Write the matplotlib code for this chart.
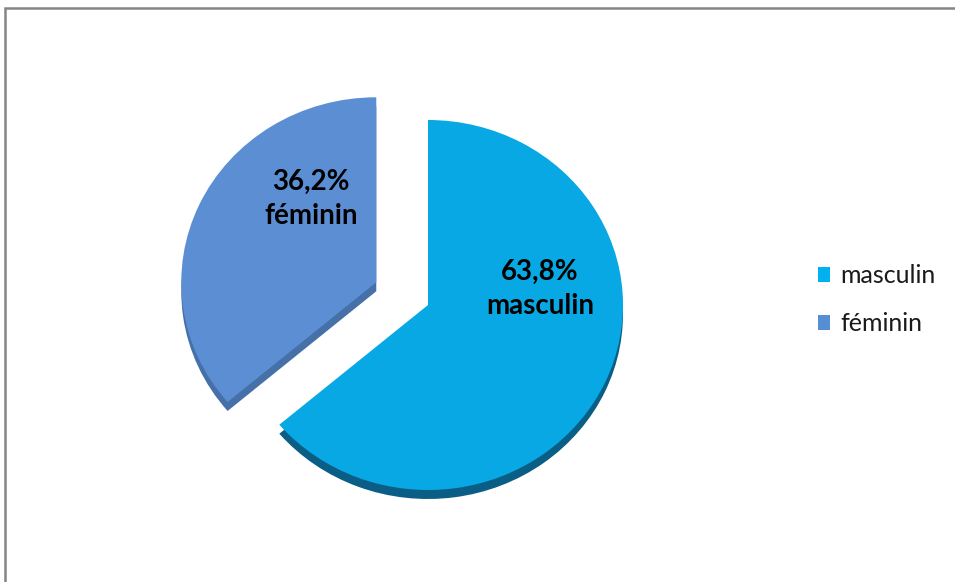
import matplotlib.pyplot as plt
from matplotlib.patches import Patch, Rectangle

# Répartition par sexe (%)
categories = ['masculin', 'féminin']
percents = [63.8, 36.2]

top_colors = ['#07A8E3', '#5B8ED2']
side_colors = ['#0A5E86', '#4670A8']
legend_colors = ['#00B0F0', '#558ED5']

W, H = 955, 582
SY = 185 / 195          # slight vertical squash for the tilted look
cx, cy = 428, (H - 305) / SY
radius = 195
depth = 9 / SY
explode = [0, 57]       # pie() shifts by this many data units

plt.rcParams['font.family'] = ['Lato', 'DejaVu Sans']

fig = plt.figure(figsize=(W / 100, H / 100), dpi=100)
ax = fig.add_axes([0, 0, 1, 1])

# side of the pie: same wedges, darker and shifted down
ax.pie(percents, startangle=90, counterclock=False, explode=explode,
       colors=side_colors, radius=radius, center=(cx, cy - depth),
       wedgeprops={'linewidth': 0})
# top face
wedges, _ = ax.pie(percents, startangle=90, counterclock=False, explode=explode,
                   colors=top_colors, radius=radius, center=(cx, cy),
                   wedgeprops={'linewidth': 0})

ax.set_aspect('auto')
ax.set_xlim(0, W)
ax.set_ylim(0, H / SY)
ax.axis('off')


def fr(v):
    return f'{v:.1f}'.replace('.', ',') + '%'


label_pos = [(540, 289), (311, 199)]
for (px, py), cat, pct in zip(label_pos, categories, percents):
    ax.text(px, (H - py) / SY, f'{fr(pct)}\n{cat}', ha='center', va='center',
            fontsize=20, fontweight='bold', color='black', linespacing=1.35)

handles = [Patch(facecolor=c, edgecolor='none') for c in legend_colors]
ax.legend(handles, categories, loc='center left',
          bbox_to_anchor=(795 / W, 1 - 300 / H), bbox_transform=fig.transFigure,
          frameon=False, fontsize=18, handlelength=0.5, handleheight=0.5,
          handletextpad=0.4, labelspacing=1.0, labelcolor='#1a1a1a')

# chart area border (runs off the right and bottom)
fig.patches.append(Rectangle((5 / W, -0.1), 1.2, 1 - 8 / H + 0.1,
                             transform=fig.transFigure, fill=False,
                             edgecolor='#858585', linewidth=1.8))

fig.savefig('out.png', dpi=100)
